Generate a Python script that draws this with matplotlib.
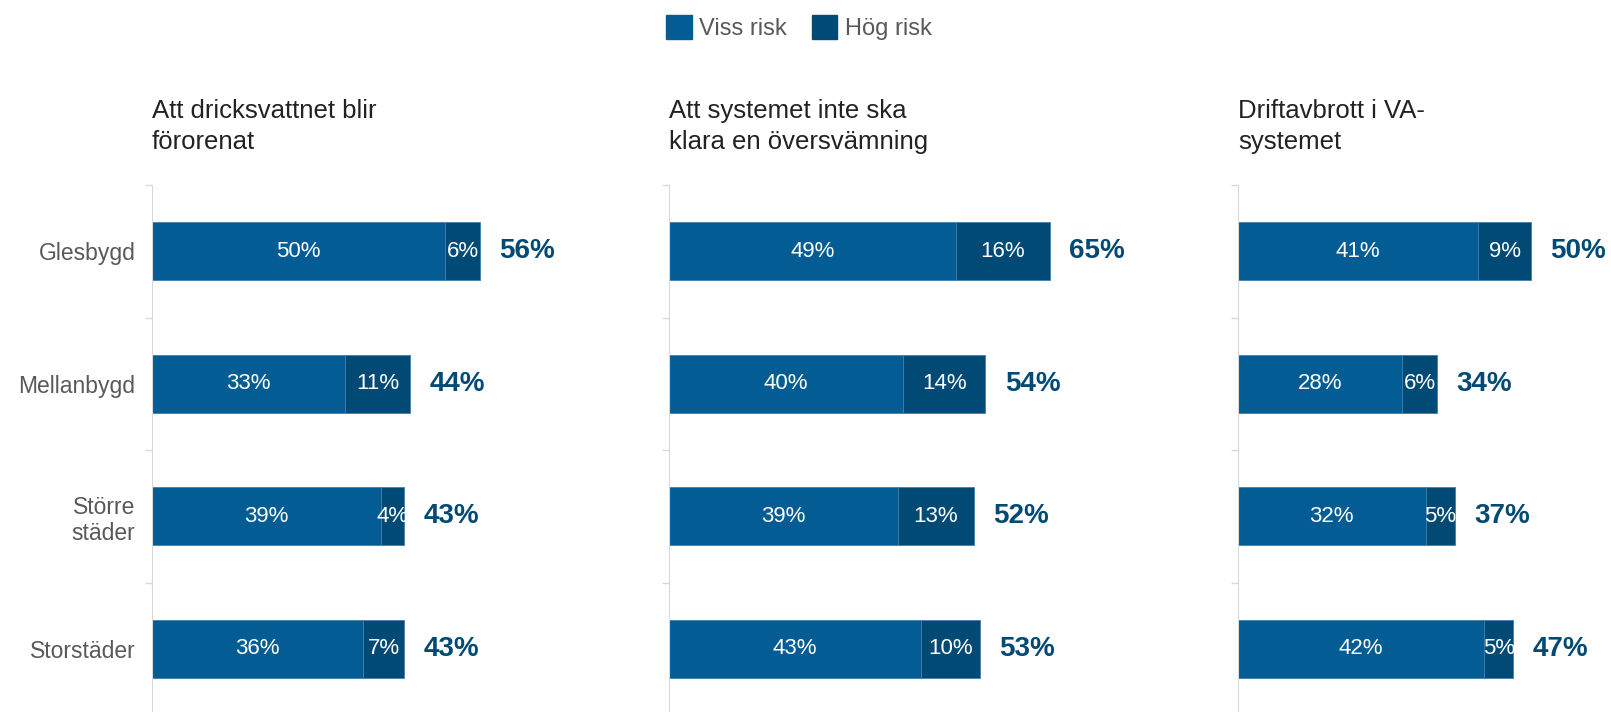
import matplotlib.pyplot as plt
from matplotlib.patches import Patch

plt.rcParams['font.family'] = ['Liberation Sans', 'DejaVu Sans']

categories = ['Glesbygd', 'Mellanbygd', 'Större\nstäder', 'Storstäder']
titles = ['Att dricksvattnet blir\nförorenat',
          'Att systemet inte ska\nklara en översvämning',
          'Driftavbrott i VA-\nsystemet']
viss_risk = [[50, 33, 39, 36],
             [49, 40, 39, 43],
             [41, 28, 32, 42]]
hog_risk = [[6, 11, 4, 7],
            [16, 14, 13, 10],
            [9, 6, 5, 5]]

light = '#035c94'
dark = '#024a76'
grid_c = '#d9d9d9'

W, H = 1611, 712
fig = plt.figure(figsize=(W / 100, H / 100), dpi=100)

# panel left edges and vertical extent in pixels
lefts = [152, 669, 1238]
ax_w = 400
px_per_unit = 5.86
top_px, bot_px = 185, 715

for i, left in enumerate(lefts):
    ax = fig.add_axes([left / W, (H - bot_px) / H, ax_w / W, (bot_px - top_px) / H])
    y = list(range(len(categories)))
    v = viss_risk[i]
    h = hog_risk[i]
    ax.barh(y, v, height=0.434, color=light, edgecolor='#3f7fae', linewidth=0.6)
    ax.barh(y, h, left=v, height=0.434, color=dark, edgecolor='#3f7fae', linewidth=0.6)
    for yy, a, b in zip(y, v, h):
        ax.text(a / 2, yy, f'{a}%', ha='center', va='center', color='white', fontsize=16)
        ax.text(a + b / 2, yy, f'{b}%', ha='center', va='center', color='white', fontsize=16)
        ax.annotate(f'{a + b}%', xy=(a + b, yy), xytext=(14, 0), textcoords='offset points',
                    ha='left', va='center', color=dark, fontsize=20, fontweight='bold')
    ax.set_xlim(0, ax_w / px_per_unit)
    ax.set_ylim(len(categories) - 0.5, -0.5)
    for s in ['top', 'right', 'bottom']:
        ax.spines[s].set_visible(False)
    ax.spines['left'].set_color(grid_c)
    ax.set_xticks([])
    ax.set_yticks(y)
    ax.set_yticks([k - 0.5 for k in range(len(categories) + 1)], minor=True)
    ax.tick_params(axis='y', which='major', length=0, pad=12)
    ax.tick_params(axis='y', which='minor', length=5, color=grid_c, width=1)
    if i == 0:
        ax.set_yticklabels(categories, fontsize=16.5, color='#595959')
    else:
        ax.set_yticklabels([])
    fig.text(left / W, 1 - 99 / H, titles[i], ha='left', va='top', fontsize=18.5,
             color='#222222', linespacing=1.37)

handles = [Patch(color=light, label='Viss risk'), Patch(color=dark, label='Hög risk')]
fig.legend(handles=handles, loc='center', bbox_to_anchor=(0.4957, 0.961), ncol=2,
           frameon=False, fontsize=17, labelcolor='#595959', handlelength=1.1,
           handleheight=1.2, handletextpad=0.3, columnspacing=1.06)

fig.savefig('out.png', dpi=100)
